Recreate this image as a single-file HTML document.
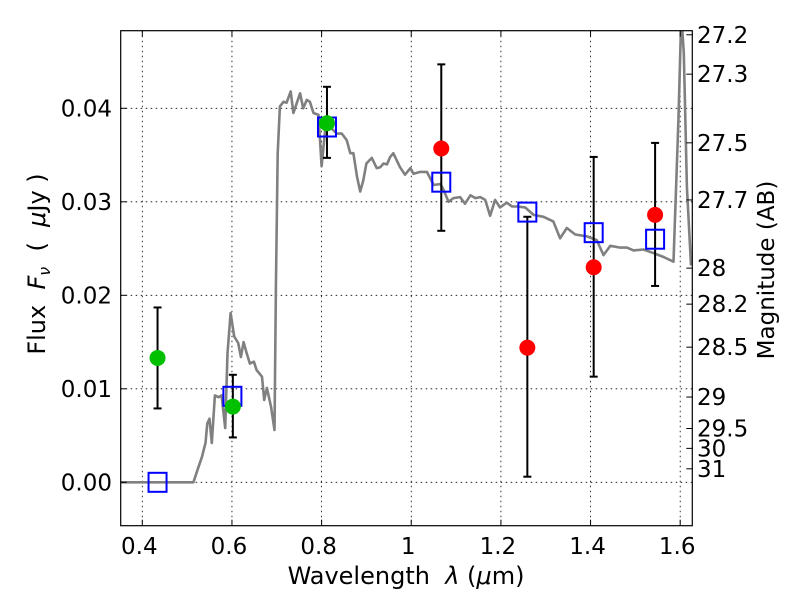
<!DOCTYPE html>
<html><head><meta charset="utf-8"><style>
body{margin:0;background:#fff;}
svg text{font-family:"DejaVu Sans","Liberation Sans",sans-serif;fill:#000;white-space:pre;}
</style></head><body>
<svg id="chart" width="800" height="600" viewBox="0 0 800 600">
<rect width="800" height="600" fill="#fff"/>
<g id="grid"></g>
<g id="spec"></g>
<g id="pts"></g>
<rect x="120.7" y="30.7" width="571.6" height="495" fill="none" stroke="#000" stroke-width="1.2"/>
<g id="ticks"></g>
<text x="406" y="584" font-size="24" text-anchor="middle">Wavelength  <tspan font-style="italic">λ</tspan> (<tspan font-style="italic">μ</tspan>m)</text>
<text transform="translate(45,264) rotate(-90)" font-size="24" text-anchor="middle">Flux  <tspan font-style="italic">F</tspan><tspan font-style="italic" font-size="16" dy="5">ν</tspan><tspan dy="-5">  (  </tspan><tspan font-style="italic">μ</tspan>Jy )</text>
<text transform="translate(774,270) rotate(-90)" font-size="23" text-anchor="middle">Magnitude (AB)</text>
</svg>
<script>
const xTicks=[0.4,0.6,0.8,1.0,1.2,1.4,1.6];
const xTickLabels=["0.4","0.6","0.8","1","1.2","1.4","1.6"];
const yTicks=[0,0.01,0.02,0.03,0.04];
const yTickLabels=["0.00","0.01","0.02","0.03","0.04"];
const magTicks=[27.2,27.3,27.5,27.7,28,28.2,28.5,29,29.5,30,31];
const magLabels=["27.2","27.3","27.5","27.7","28","28.2","28.5","29","29.5","30","31"];
const specWave=[0.35,0.514,0.523,0.533,0.541,0.545,0.550,0.555,0.562,0.570,0.577,0.585,0.590,0.597,0.605,0.614,0.620,0.626,0.633,0.640,0.649,0.655,0.667,0.672,0.678,0.687,0.695,0.698,0.702,0.707,0.715,0.722,0.731,0.737,0.745,0.752,0.759,0.767,0.774,0.782,0.793,0.800,0.808,0.819,0.834,0.845,0.856,0.864,0.871,0.879,0.886,0.893,0.900,0.912,0.923,0.931,0.938,0.946,0.953,0.960,0.975,0.986,0.998,1.005,1.020,1.035,1.050,1.065,1.072,1.083,1.094,1.109,1.120,1.132,1.143,1.154,1.165,1.176,1.187,1.198,1.213,1.225,1.236,1.254,1.273,1.295,1.317,1.332,1.347,1.366,1.392,1.414,1.429,1.444,1.466,1.481,1.496,1.518,1.541,1.563,1.585,1.596,1.6025,1.608,1.615,1.624];
const specFlux=[0,0,0.0013,0.0027,0.0042,0.0063,0.0068,0.0042,0.0093,0.0091,0.0093,0.0058,0.0138,0.0181,0.0156,0.0149,0.0134,0.0150,0.0138,0.0127,0.0129,0.0120,0.0113,0.0088,0.0101,0.0081,0.0056,0.0209,0.0352,0.0402,0.0407,0.0406,0.0418,0.0395,0.0406,0.0416,0.0400,0.0409,0.0407,0.0395,0.0393,0.0338,0.0377,0.0380,0.0373,0.0373,0.0366,0.0352,0.0352,0.0327,0.0311,0.0323,0.0341,0.0347,0.0336,0.0337,0.0341,0.0340,0.0348,0.0352,0.0337,0.0329,0.0336,0.0330,0.0332,0.0332,0.0318,0.0319,0.0313,0.0300,0.0304,0.0305,0.0298,0.0307,0.0304,0.0305,0.0302,0.0285,0.0302,0.0294,0.0299,0.0295,0.0295,0.0294,0.0286,0.0284,0.0279,0.0261,0.0272,0.0265,0.0263,0.0259,0.0243,0.0253,0.0251,0.0251,0.0248,0.0249,0.0245,0.0241,0.0236,0.0387,0.0500,0.0459,0.0316,0.0232];
const greenWave=[0.434,0.602,0.812];
const greenFlux=[0.0133,0.0081,0.0384];
const greenErrHi=[0.0187,0.0115,0.0423];
const greenErrLo=[0.0079,0.0048,0.0347];
const redWave=[1.067,1.259,1.407,1.544];
const redFlux=[0.0357,0.0144,0.0230,0.0286];
const redErrHi=[0.0447,0.0284,0.0348,0.0363];
const redErrLo=[0.0269,0.0006,0.0113,0.0210];
const modelWave=[0.434,0.601,0.812,1.067,1.259,1.407,1.544];
const modelFlux=[0,0.0092,0.0380,0.0321,0.0289,0.0267,0.0260];

const L=120.7,R=692.3,T=30.7,B=525.7;
const xmin=0.3518,xmax=1.627,ymin=-0.00464,ymax=0.0483;
const X=v=>L+(v-xmin)/(xmax-xmin)*(R-L);
const Y=v=>B-(v-ymin)/(ymax-ymin)*(B-T);
const NS="http://www.w3.org/2000/svg";
function mk(tag,attrs,parent){const e=document.createElementNS(NS,tag);for(const k in attrs)e.setAttribute(k,attrs[k]);parent.appendChild(e);return e;}
const grid=document.getElementById('grid'),ticks=document.getElementById('ticks'),spec=document.getElementById('spec'),pts=document.getElementById('pts');
xTicks.forEach((v,i)=>{
  const g=mk('line',{x1:X(v),x2:X(v),y1:T,y2:B,stroke:'#000','stroke-width':0.8,'stroke-dasharray':'1.5,3.5'},grid);
  
  
  mk('line',{x1:X(v),x2:X(v),y1:B,y2:B-6,stroke:'#000','stroke-width':1},ticks);
  mk('line',{x1:X(v),x2:X(v),y1:T,y2:T+6,stroke:'#000','stroke-width':1},ticks);
  const t=mk('text',{x:X(v)-3,y:554,'font-size':23,'text-anchor':'middle'},ticks);
  t.textContent=xTickLabels[i];
  
  
});
yTicks.forEach((v,i)=>{
  const g=mk('line',{x1:L,x2:R,y1:Y(v),y2:Y(v),stroke:'#000','stroke-width':0.8,'stroke-dasharray':'1.5,3.5'},grid);
  
  
  mk('line',{x1:L,x2:L+6,y1:Y(v),y2:Y(v),stroke:'#000','stroke-width':1},ticks);
  const t=mk('text',{x:112,y:Y(v)+8,'font-size':23,'text-anchor':'end'},ticks);
  t.textContent=yTickLabels[i];
  
  
});
magTicks.forEach((m,i)=>{
  const y=Y(Math.pow(10,(23.9-m)/2.5));
  mk('line',{x1:R-6,x2:R,y1:y,y2:y,stroke:'#000','stroke-width':1},ticks);
  const t=mk('text',{x:697,y:y+8,'font-size':23},ticks);
  t.textContent=magLabels[i];
  
  
});
mk('clipPath',{id:'clip'},document.getElementById('chart'));
mk('rect',{x:L,y:T,width:R-L,height:B-T},document.getElementById('clip'));
const d=specWave.map((w,i)=>(i?'L':'M')+X(w).toFixed(1)+','+Y(specFlux[i]).toFixed(1)).join(' ');
const p=mk('path',{d:d,fill:'none',stroke:'#808080','stroke-width':2.6,'stroke-linejoin':'round','clip-path':'url(#clip)'},spec);


function errbar(x,lo,hi){
  const g=mk('g',{stroke:'#000','stroke-width':2},pts);
  
  
  mk('line',{x1:X(x),x2:X(x),y1:Y(lo),y2:Y(hi)},g);
  mk('line',{x1:X(x)-4,x2:X(x)+4,y1:Y(lo),y2:Y(lo)},g);
  mk('line',{x1:X(x)-4,x2:X(x)+4,y1:Y(hi),y2:Y(hi)},g);
}
greenWave.forEach((w,i)=>errbar(w,greenErrLo[i],greenErrHi[i]));
redWave.forEach((w,i)=>errbar(w,redErrLo[i],redErrHi[i]));
modelWave.forEach((w,i)=>{
  const r=mk('rect',{x:X(w)-9,y:Y(modelFlux[i])-9.5,width:18,height:19,fill:'none',stroke:'#0000ff','stroke-width':2},pts);
  
  
});
greenWave.forEach((w,i)=>{
  const c=mk('circle',{cx:X(w),cy:Y(greenFlux[i]),r:8,fill:'#00c000'},pts);
  
  
});
redWave.forEach((w,i)=>{
  const c=mk('circle',{cx:X(w),cy:Y(redFlux[i]),r:8,fill:'#ff0000'},pts);
  
  
});
</script>
</body></html>
